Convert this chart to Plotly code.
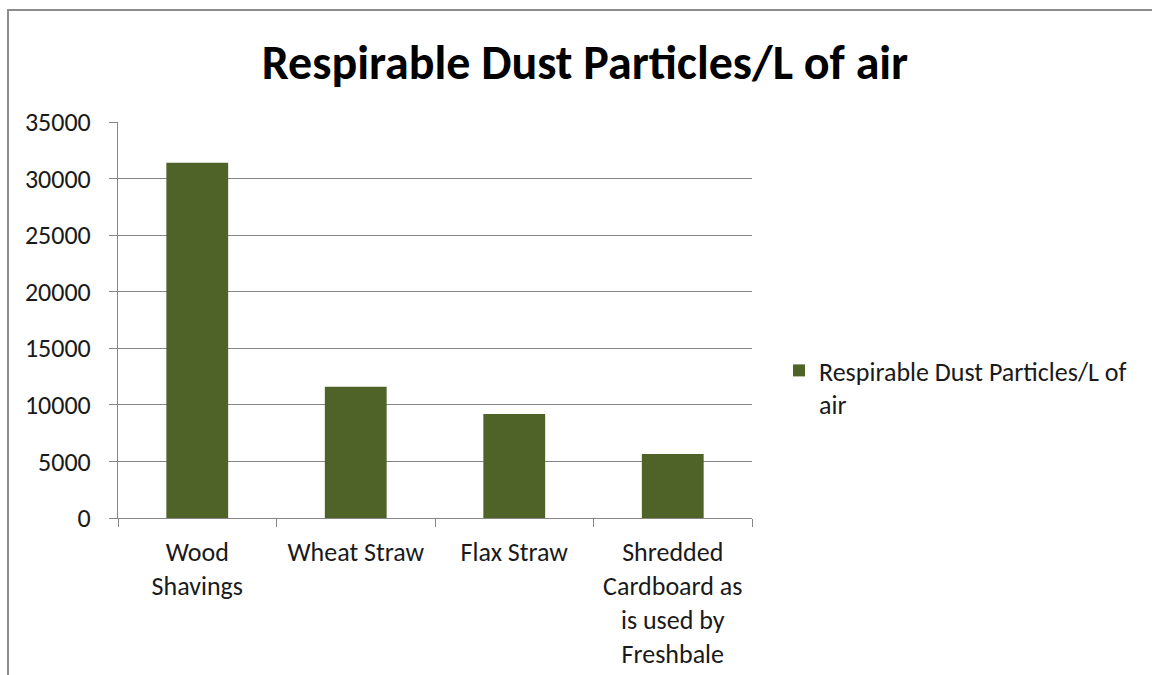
import plotly.graph_objects as go

categories = ["Wood<br>Shavings", "Wheat Straw", "Flax Straw",
              "Shredded<br>Cardboard as<br>is used by<br>Freshbale"]
values = [31400, 11600, 9200, 5650]
series_name = "Respirable Dust Particles/L of<br>air"
title_text = "Respirable Dust Particles/L of air"
y_ticks = [0, 5000, 10000, 15000, 20000, 25000, 30000, 35000]

W, H = 1152, 675
L, R, T, B = 118, 752, 122, 518
pw, ph = R - L, B - T

FONT = "Carlito, Calibri, Lato, sans-serif"
BAR = "#4F6228"
GRID = "#868686"
FS = 26

fig = go.Figure()
fig.add_trace(go.Bar(x=categories, y=values, name=series_name,
                     marker=dict(color=BAR, line=dict(width=0)),
                     showlegend=True))

def px_x(p):
    return (p - L) / pw

def px_y(p):
    return (B - p) / ph

fig.add_shape(type="rect", xref="paper", yref="paper",
              x0=px_x(8), x1=px_x(1200), y0=px_y(720), y1=px_y(10),
              line=dict(color="#8c8c8c", width=2), fillcolor="rgba(0,0,0,0)",
              layer="above")

fig.update_layout(
    width=W, height=H,
    margin=dict(l=L, r=W - R, t=T, b=H - B, pad=0, autoexpand=False),
    paper_bgcolor="white", plot_bgcolor="white",
    font=dict(family=FONT, size=FS, color="#1a1a1a"),
    title=dict(text="<b>" + title_text + "</b>", x=585 / W, xanchor="center",
               y=1 - 62 / H, yanchor="middle",
               font=dict(family=FONT, size=48, color="#000000")),
    bargap=0.61,
    legend=dict(x=px_x(779), y=px_y(347), xanchor="left", yanchor="top",
                valign="top", font=dict(family=FONT, size=FS, color="#1a1a1a"),
                bgcolor="rgba(0,0,0,0)", itemwidth=30, tracegroupgap=0),
    xaxis=dict(type="category", showline=True, linecolor=GRID, linewidth=1,
               ticks="outside", tickson="boundaries", ticklen=8,
               tickcolor=GRID, showgrid=False, tickfont=dict(size=FS),
               ticklabelstandoff=11, automargin=False),
    yaxis=dict(range=[0, 35000], tickvals=y_ticks, tickformat="d",
               showline=True, linecolor=GRID, linewidth=1, ticks="outside",
               ticklen=8, tickcolor=GRID, showgrid=True, gridcolor=GRID,
               gridwidth=1, zeroline=False, tickfont=dict(size=FS),
               ticklabelstandoff=13, automargin=False),
)

fig.write_html("out.html", config={"displayModeBar": False},
               post_script="document.body.style.margin='0px';"
                           "document.body.style.overflow='hidden';")
